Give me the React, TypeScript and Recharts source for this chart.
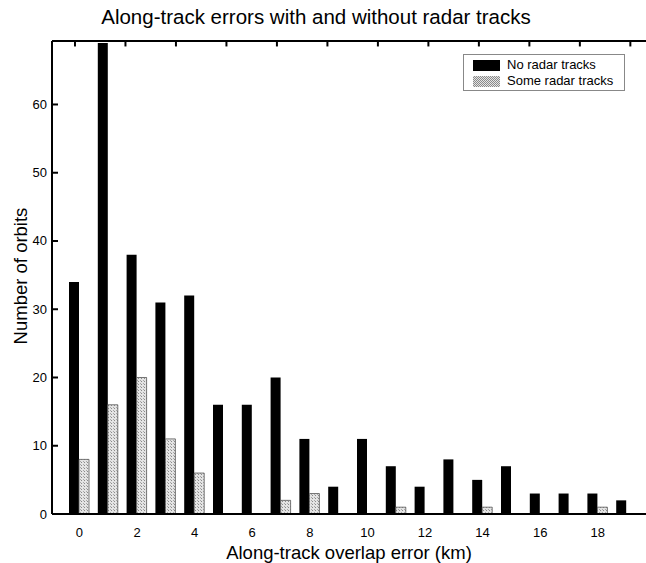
import React from 'react';
import { BarChart, Bar, XAxis, YAxis, Label, ReferenceLine } from 'recharts';

// histogram bins (km) and counts per bin
const errorBins = ['0', '1', '2', '3', '4', '5', '6', '7', '8', '9', '10', '11', '12', '13', '14', '15', '16', '17', '18', '19'];
const noRadar = [34, 69, 38, 31, 32, 16, 16, 20, 11, 4, 11, 7, 4, 8, 5, 7, 3, 3, 3, 2];
const someRadar = [8, 16, 20, 11, 6, 0, 0, 2, 3, 0, 0, 1, 0, 0, 1, 0, 0, 0, 1, 0];
const yTicks = [0, 10, 20, 30, 40, 50, 60];
const Y_MAX = 69.3;
// minor ticks along the top frame
const topTicks = [0, 1, 2, 3, 4, 5, 6, 7, 8, 9, 10, 11];

const rows = errorBins.map((bin, i) => ({ bin, idx: i, none: noRadar[i], some: someRadar[i] }));

const FONT = '"Liberation Sans", Arial, Helvetica, sans-serif';

const YTick = (props: any) => {
  const { x, y, payload } = props;
  const axisX = x + 4;
  return (
    <g>
      <line x1={axisX} x2={axisX + 6} y1={y} y2={y} stroke="#000" strokeWidth={2} />
      <text x={x - 1} y={y} dy={4.5} textAnchor="end" fontSize={13} fontFamily={FONT} fill="#000">
        {payload.value}
      </text>
    </g>
  );
};

const YTitle = () => (
  <text
    x={21}
    y={276}
    transform="rotate(-90 21 276)"
    textAnchor="middle"
    dy={6}
    fontSize={18.5}
    fontFamily={FONT}
    fill="#000"
  >
    Number of orbits
  </text>
);

export default function App() {
  return (
    <div style={{ position: 'relative', width: 646, height: 563, background: '#fff', fontFamily: FONT }}>
      <style>{'body{margin:0;}'}</style>
      <div
        style={{
          position: 'absolute',
          left: 0,
          width: 632,
          top: 5,
          textAlign: 'center',
          fontSize: 20.5,
          color: '#000',
        }}
      >
        Along-track errors with and without radar tracks
      </div>

      <BarChart
        width={646}
        height={563}
        data={rows}
        margin={{ top: 41, right: 0, bottom: 0, left: 8 }}
        barGap={0}
        barCategoryGap={4}
      >
        <defs>
          <pattern id="stipple" width={3} height={3} patternUnits="userSpaceOnUse">
            <rect width={3} height={3} fill="#e4e4e4" />
            <rect x={0} y={0} width={1} height={1} fill="#8a8a8a" />
            <rect x={2} y={2} width={1} height={1} fill="#a8a8a8" />
          </pattern>
        </defs>
        <XAxis
          dataKey="bin"
          height={49}
          interval={1}
          padding={{ left: 13, right: 5 }}
          tickLine={false}
          axisLine={false}
          tick={{ fontSize: 13, fontFamily: FONT, fill: '#000' }}
          tickMargin={8}
        >
          <Label
            value="Along-track overlap error (km)"
            position="insideBottom"
            offset={4}
            fontSize={18.5}
            fontFamily={FONT}
            fill="#000"
          />
        </XAxis>
        <XAxis
          xAxisId="top"
          dataKey="idx"
          type="number"
          hide
          domain={[-0.455, 11.31]}
          allowDataOverflow
        />
        <YAxis
          width={44}
          domain={[0, Y_MAX]}
          ticks={yTicks}
          allowDataOverflow
          tickLine={false}
          tickSize={0}
          tickMargin={4}
          axisLine={false}
          tick={<YTick />}
        >
          <Label content={<YTitle />} />
        </YAxis>
        <Bar dataKey="none" fill="#000" barSize={10} isAnimationActive={false} />
        <Bar
          dataKey="some"
          fill="url(#stipple)"
          stroke="#555"
          strokeWidth={0.8}
          barSize={10}
          isAnimationActive={false}
        />
        {/* plot frame: bottom, top and left edges */}
        <ReferenceLine y={0} stroke="#000" strokeWidth={2} ifOverflow="visible" />
        <ReferenceLine y={Y_MAX} stroke="#000" strokeWidth={2} ifOverflow="visible" />
        <ReferenceLine x={-0.455} xAxisId="top" stroke="#000" strokeWidth={2} ifOverflow="visible" />
        {topTicks.map((t) => (
          <ReferenceLine
            key={t}
            xAxisId="top"
            segment={[{ x: t, y: Y_MAX }, { x: t, y: Y_MAX - 0.8 }]}
            stroke="#000"
            strokeWidth={2}
            ifOverflow="visible"
          />
        ))}
      </BarChart>

      <div
        style={{
          position: 'absolute',
          left: 463,
          top: 54,
          width: 160,
          height: 35,
          border: '1px solid #888',
          fontSize: 13,
          color: '#000',
        }}
      >
        <div style={{ position: 'absolute', left: 9, top: 5, width: 27, height: 11, background: '#000' }} />
        <div style={{ position: 'absolute', left: 43, top: 3, lineHeight: '14px' }}>No radar tracks</div>
        <div
          style={{
            position: 'absolute',
            left: 9,
            top: 21,
            width: 27,
            height: 11,
            background:
              'repeating-conic-gradient(#8a8a8a 0 25%, #e4e4e4 0 50%) 0 0 / 2px 2px',
          }}
        />
        <div style={{ position: 'absolute', left: 43, top: 19, lineHeight: '14px' }}>Some radar tracks</div>
      </div>
    </div>
  );
}
